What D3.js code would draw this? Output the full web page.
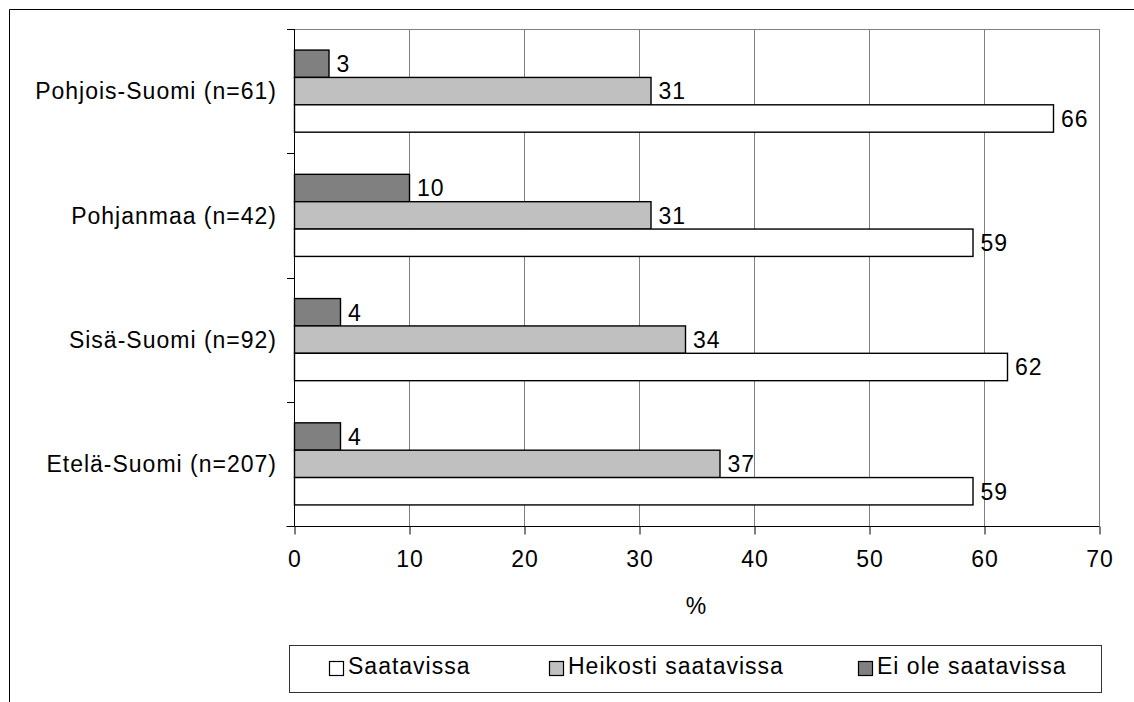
<!DOCTYPE html>
<html>
<head>
<meta charset="utf-8">
<script src="https://cdn.jsdelivr.net/npm/d3@7"></script>
<style>
  html, body { margin: 0; padding: 0; background: #fff; }
  svg { display: block; font-family: "Liberation Sans", Arial, sans-serif; }
  text { font-size: 23px; fill: #000; letter-spacing: 1px; }
</style>
</head>
<body>
<svg id="chart" width="1134" height="702"></svg>
<script>
const categories = ["Pohjois-Suomi (n=61)", "Pohjanmaa (n=42)", "Sisä-Suomi (n=92)", "Etelä-Suomi (n=207)"];
const seriesNames = ["Ei ole saatavissa", "Heikosti saatavissa", "Saatavissa"];
const eiOle = [3, 10, 4, 4];
const heikosti = [31, 31, 34, 37];
const saatavissa = [66, 59, 62, 59];
const xTicks = [0, 10, 20, 30, 40, 50, 60, 70];
const legendOrder = ["Saatavissa", "Heikosti saatavissa", "Ei ole saatavissa"];
const colors = { "Ei ole saatavissa": "#808080", "Heikosti saatavissa": "#c0c0c0", "Saatavissa": "#ffffff" };

const valuesBySeries = { "Ei ole saatavissa": eiOle, "Heikosti saatavissa": heikosti, "Saatavissa": saatavissa };
const rows = categories.map((c, i) => ({ cat: c, vals: seriesNames.map(s => ({ key: s, value: valuesBySeries[s][i] })) }));

const svg = d3.select("#chart");
const pLeft = 294, pRight = 1099, pTop = 29, pBottom = 526;

// outer frame (top and left visible)
svg.append("line").attr("x1", 9.5).attr("x2", 1134).attr("y1", 9.5).attr("y2", 9.5).attr("stroke", "#000");
svg.append("line").attr("x1", 9.5).attr("x2", 9.5).attr("y1", 9.5).attr("y2", 702).attr("stroke", "#000");

const x = d3.scaleLinear().domain([0, 70]).range([pLeft, pRight]);
const y0 = d3.scaleBand().domain(categories).range([pTop, pBottom]).padding(0);
const y1 = d3.scaleBand().domain(seriesNames).range([0, y0.bandwidth()]).paddingInner(0).paddingOuter(0.77);

// gridlines
svg.append("g").selectAll("line").data(xTicks.filter(t => t > 0)).join("line")
  .attr("x1", d => Math.round(x(d)) + 0.5).attr("x2", d => Math.round(x(d)) + 0.5)
  .attr("y1", pTop).attr("y2", pBottom)
  .attr("stroke", "#808080").attr("stroke-width", 1);
// top plot border
svg.append("line").attr("x1", pLeft).attr("x2", pRight + 0.5).attr("y1", pTop + 0.5).attr("y2", pTop + 0.5).attr("stroke", "#808080");

// bars
const g = svg.append("g");
const groups = g.selectAll("g.cat").data(rows).join("g").attr("class", "cat")
  .attr("transform", d => `translate(0,${y0(d.cat)})`);
groups.selectAll("rect").data(d => d.vals).join("rect")
  .attr("x", x(0) + 0.5)
  .attr("y", d => y1(d.key))
  .attr("width", d => x(d.value) - x(0))
  .attr("height", y1.bandwidth())
  .attr("fill", d => colors[d.key])
  .attr("stroke", "#000").attr("stroke-width", 1.4);
groups.selectAll("text").data(d => d.vals).join("text")
  .attr("x", d => x(d.value) + 8)
  .attr("y", d => y1(d.key) + y1.bandwidth() / 2)
  .attr("dy", "0.36em")
  .text(d => d.value);

// x axis
const xAxis = d3.axisBottom(x).tickValues(xTicks).tickSize(8).tickPadding(16).tickFormat(d3.format("d"));
const xg = svg.append("g").attr("transform", `translate(0.5,${pBottom + 0.5})`).call(xAxis);
xg.select(".domain").attr("d", `M${pLeft - 8},0H${pRight}`).attr("stroke", "#000");
xg.selectAll(".tick line").attr("stroke", "#000");
xg.selectAll(".tick text").attr("font-size", 23).attr("font-family", "Liberation Sans, Arial, sans-serif").attr("fill", "#000");

// y axis
const boundaries = categories.map(c => y0(c)).concat([pBottom]);
const yg = svg.append("g");
yg.append("line").attr("x1", pLeft + 0.5).attr("x2", pLeft + 0.5).attr("y1", pTop).attr("y2", pBottom).attr("stroke", "#000");
yg.selectAll("line.tick").data(boundaries).join("line").attr("class", "tick")
  .attr("x1", pLeft - 7).attr("x2", pLeft)
  .attr("y1", d => Math.round(d) + 0.5).attr("y2", d => Math.round(d) + 0.5)
  .attr("stroke", "#000");
yg.selectAll("text").data(categories).join("text")
  .attr("x", pLeft - 17)
  .attr("y", d => y0(d) + y0.bandwidth() / 2)
  .attr("dy", "0.36em")
  .attr("text-anchor", "end")
  .text(d => d);

// right plot border
svg.append("line").attr("x1", pRight + 0.5).attr("x2", pRight + 0.5).attr("y1", pTop).attr("y2", pBottom).attr("stroke", "#808080");

// x axis title
svg.append("text").attr("x", (pLeft + pRight) / 2).attr("y", 614).attr("text-anchor", "middle").text("%");

// legend
const lg = svg.append("g");
lg.append("rect").attr("x", 289.5).attr("y", 645.5).attr("width", 812).attr("height", 47)
  .attr("fill", "#fff").attr("stroke", "#333").attr("stroke-width", 1);
const legendX = [329, 549, 858];
legendOrder.forEach((name, i) => {
  lg.append("rect").attr("x", legendX[i] + 0.5).attr("y", 661.5).attr("width", 14).attr("height", 14)
    .attr("fill", colors[name]).attr("stroke", "#000").attr("stroke-width", 1.2);
  lg.append("text").attr("x", legendX[i] + 19).attr("y", 674).text(name);
});
</script>
</body>
</html>
